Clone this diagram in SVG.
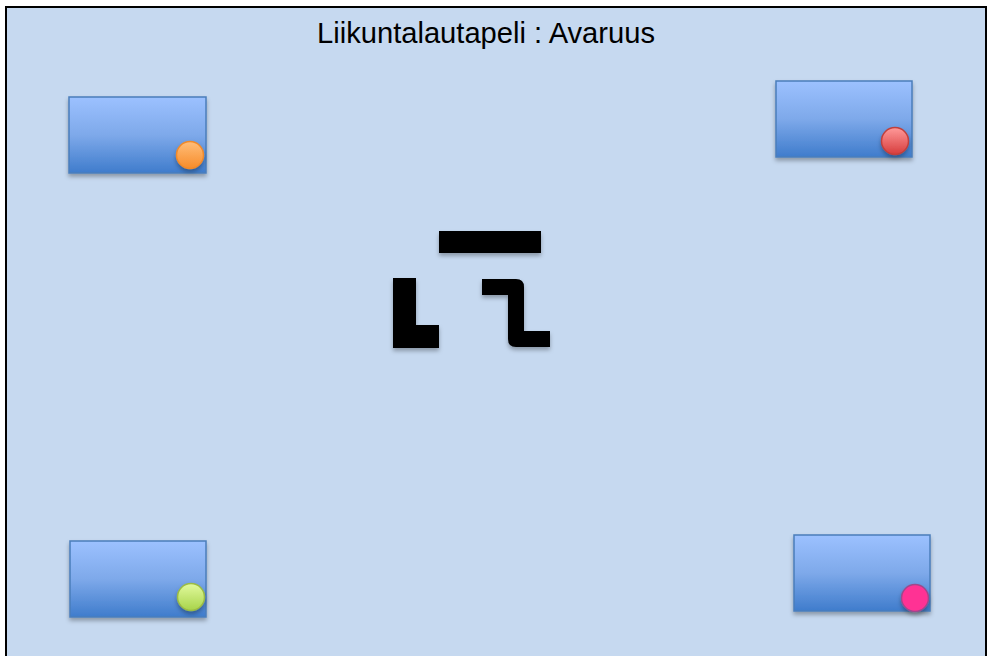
<svg xmlns="http://www.w3.org/2000/svg" width="989" height="656" viewBox="0 0 989 656">
<defs>
<linearGradient id="boxg" x1="0" y1="0" x2="0" y2="1">
<stop offset="0" stop-color="#9cc1ff"/>
<stop offset="0.5" stop-color="#7ea9ea"/>
<stop offset="1" stop-color="#3f7ccc"/>
</linearGradient>
<linearGradient id="og" x1="0" y1="0" x2="0" y2="1"><stop offset="0" stop-color="#ffbe7a"/><stop offset="1" stop-color="#f78c2a"/></linearGradient>
<linearGradient id="rg" x1="0" y1="0" x2="0" y2="1"><stop offset="0" stop-color="#ff9a9a"/><stop offset="1" stop-color="#d63c3c"/></linearGradient>
<linearGradient id="gg" x1="0" y1="0" x2="0" y2="1"><stop offset="0" stop-color="#e2fa9e"/><stop offset="1" stop-color="#a8d44a"/></linearGradient>
<filter id="sh" x="-20%" y="-20%" width="140%" height="150%"><feDropShadow dx="0" dy="3" stdDeviation="2" flood-color="#000" flood-opacity="0.3"/></filter>
</defs>
<style>
.box{fill:url(#boxg);stroke:#4a7ebb;stroke-width:1.5;filter:url(#sh)}
.blk{fill:#000;filter:url(#sh)}
.t{font-family:"Liberation Sans",Arial,sans-serif;font-size:29px;fill:#000}
</style>
<rect x="0" y="0" width="989" height="656" fill="#fff"/>
<rect x="6" y="7" width="980" height="662" fill="#c6d9f0" stroke="#000" stroke-width="2"/>
<text class="t" x="317" y="43" textLength="338" lengthAdjust="spacingAndGlyphs">Liikuntalautapeli : Avaruus</text>
<g id="tl"><rect class="box" x="69" y="97" width="137" height="76"/><circle cx="190" cy="155" r="13.5" fill="url(#og)" stroke="#f08a2c" stroke-width="1.5" filter="url(#sh)"/></g>
<g id="tr"><rect class="box" x="776" y="81" width="136" height="76"/><circle cx="895" cy="141" r="13.5" fill="url(#rg)" stroke="#c0403c" stroke-width="1.5" filter="url(#sh)"/></g>
<g id="bl"><rect class="box" x="70" y="541" width="136" height="76"/><circle cx="191" cy="597" r="13.5" fill="url(#gg)" stroke="#9bbb45" stroke-width="1.5" filter="url(#sh)"/></g>
<g id="br"><rect class="box" x="794" y="535" width="136" height="76"/><circle cx="915" cy="598" r="13.5" fill="#ff3194" stroke="#9d4a8c" stroke-width="1.5" filter="url(#sh)"/></g>
<g id="bar"><rect class="blk" x="439" y="231" width="102" height="22"/></g>
<g id="lshape"><path class="blk" d="M393 278 H416 V325 H439 V348 H393 Z"/></g>
<g id="zshape"><path class="blk" d="M482 279 H516 Q524 279 524 287 V331 H550 V347 H516 Q508 347 508 339 V295 H482 Z"/></g>
</svg>
